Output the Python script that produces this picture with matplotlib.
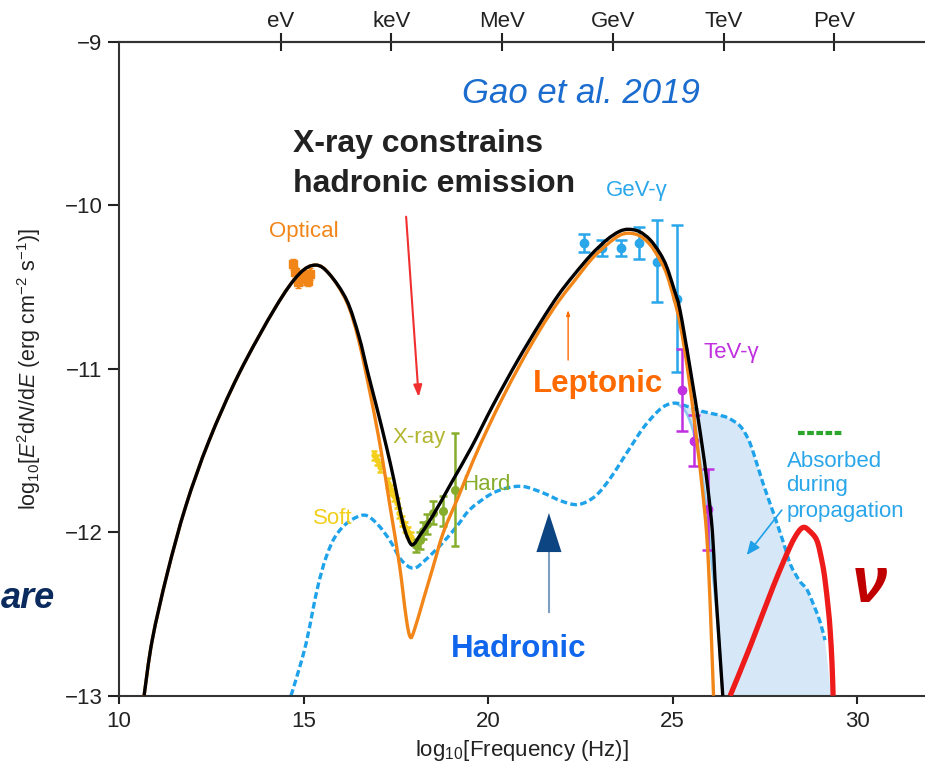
import matplotlib
matplotlib.use("Agg")
import numpy as np
import matplotlib.pyplot as plt
from matplotlib.path import Path
from matplotlib.patches import Polygon, PathPatch

plt.rcParams['font.family'] = ['Liberation Sans', 'DejaVu Sans']
plt.rcParams['mathtext.fontset'] = 'custom'
plt.rcParams['mathtext.rm'] = 'Liberation Sans'
plt.rcParams['mathtext.it'] = 'Liberation Sans:italic'
plt.rcParams['mathtext.bf'] = 'Liberation Sans:bold'

# ---------------- model curves (log10 nu [Hz], log10 E^2 dN/dE) ----------------
total_x = [10.68, 10.9, 11.31, 11.81, 12.44, 13.25, 14.25, 14.88, 15.33, 15.7, 16.17, 16.5,
           16.75, 17.0, 17.25, 17.45, 17.61, 17.75, 17.9, 18.0, 18.15, 18.5, 19.0, 19.55,
           20.14, 20.8, 21.41, 21.9, 22.31, 22.8, 23.22, 23.55, 23.8, 24.1, 24.39, 24.65,
           24.84, 25.05, 25.2, 25.47, 25.75, 25.95, 26.08, 26.15, 26.25, 26.36]
total_y = [-13.0, -12.66, -12.25, -11.84, -11.44, -11.03, -10.62, -10.42, -10.365, -10.42, -10.58, -10.8,
           -11.03, -11.25, -11.48, -11.68, -11.86, -11.99, -12.07, -12.07, -12.02, -11.9, -11.7, -11.48,
           -11.22, -10.95, -10.72, -10.55, -10.43, -10.3, -10.21, -10.16, -10.146, -10.16, -10.21, -10.29,
           -10.375, -10.52, -10.64, -10.99, -11.39, -11.72, -12.0, -12.29, -12.63, -13.0]

lepto_x = [10.68, 10.9, 11.31, 11.81, 12.44, 13.25, 14.25, 14.88, 15.33, 15.7, 16.17, 16.5,
           16.85, 17.1, 17.35, 17.6, 17.78, 17.89, 18.0, 18.25, 18.5, 18.79, 19.2, 19.6,
           20.0, 20.41, 20.9, 21.41, 21.9, 22.31, 22.8, 23.22, 23.55, 23.8, 24.1, 24.39,
           24.65, 24.84, 25.05, 25.2, 25.4, 25.63, 25.8, 25.92, 25.99, 26.05, 26.11]
lepto_y = [-13.0, -12.66, -12.25, -11.84, -11.44, -11.03, -10.62, -10.42, -10.365, -10.42, -10.59, -10.83,
           -11.2, -11.5, -11.85, -12.2, -12.52, -12.64, -12.6, -12.41, -12.22, -12.0, -11.78, -11.56,
           -11.36, -11.17, -10.96, -10.76, -10.59, -10.47, -10.33, -10.24, -10.185, -10.17, -10.185, -10.24,
           -10.33, -10.42, -10.58, -10.72, -10.99, -11.39, -11.72, -12.0, -12.29, -12.63, -13.0]

hadro_x = [14.66, 14.85, 15.07, 15.25, 15.4, 15.6, 15.85, 16.2, 16.65, 17.0, 17.34, 17.65,
           17.98, 18.3, 18.79, 19.2, 19.51, 20.05, 20.5, 20.96, 21.5, 22.0, 22.45, 22.9,
           23.31, 23.8, 24.21, 24.6, 24.85, 25.1, 25.4, 25.8, 26.2, 26.5, 26.83, 27.05,
           27.2, 27.45, 27.73, 28.0, 28.2, 28.45, 28.64, 28.85, 29.0, 29.13]
hadro_y = [-13.0, -12.86, -12.68, -12.48, -12.32, -12.16, -12.03, -11.94, -11.895, -11.95, -12.05, -12.17,
           -12.22, -12.17, -12.06, -11.95, -11.86, -11.77, -11.73, -11.72, -11.76, -11.81, -11.83, -11.78,
           -11.67, -11.5, -11.36, -11.26, -11.22, -11.21, -11.23, -11.26, -11.28, -11.3, -11.35, -11.43,
           -11.52, -11.7, -11.88, -12.06, -12.2, -12.3, -12.35, -12.46, -12.55, -12.66]

# hadronic emission that survives propagation
absorbed_x = [25.1, 25.35, 25.56, 25.75, 25.93, 26.07, 26.2, 26.3, 26.36]
absorbed_y = [-11.21, -11.26, -11.38, -11.58, -11.88, -12.2, -12.5, -12.8, -13.0]

nu_x = [26.56, 27.1, 27.73, 28.18, 28.4, 28.55, 28.7, 28.91, 29.05, 29.13, 29.22, 29.27, 29.32, 29.35]
nu_y = [-13.0, -12.7, -12.33, -12.09, -12.0, -11.97, -11.99, -12.05, -12.18, -12.29, -12.47, -12.6, -12.8, -13.0]

nu_limit_x = [28.4, 29.62]
nu_limit_y = [-11.39, -11.39]

# ---------------- measurements ----------------
opt_x = [14.72, 14.78, 14.84, 14.93, 15.02, 15.12, 15.18]
opt_y = [-10.36, -10.41, -10.47, -10.45, -10.43, -10.46, -10.42]
opt_err = [0.035, 0.035, 0.035, 0.035, 0.035, 0.035, 0.035]

soft_x = [16.92, 17.0, 17.08, 17.3, 17.38, 17.45, 17.52, 17.6, 17.68, 17.75, 17.82, 17.9]
soft_y = [-11.53, -11.56, -11.6, -11.7, -11.74, -11.78, -11.82, -11.88, -11.93, -11.97, -12.0, -12.03]
soft_err = [0.03, 0.03, 0.03, 0.03, 0.03, 0.03, 0.03, 0.03, 0.03, 0.03, 0.03, 0.03]

hard_x = [18.05, 18.15, 18.25, 18.35, 18.5, 18.79, 19.11]
hard_y = [-12.08, -12.05, -11.99, -11.95, -11.88, -11.87, -11.74]
hard_err = [0.04, 0.05, 0.05, 0.06, 0.07, 0.09, 0.345]

gev_x = [22.6, 23.1, 23.6, 24.1, 24.57, 25.13]
gev_y = [-10.23, -10.26, -10.26, -10.23, -10.345, -10.57]
gev_lo = [0.055, 0.05, 0.05, 0.1, 0.245, 0.45]
gev_hi = [0.055, 0.05, 0.05, 0.1, 0.255, 0.45]

tev_x = [25.25, 25.58, 25.97]
tev_y = [-11.13, -11.44, -11.86]
tev_err = [0.25, 0.155, 0.25]

energy_ticks = [14.383, 17.383, 20.383, 23.383, 26.383, 29.383]
energy_labels = ['eV', 'keV', 'MeV', 'GeV', 'TeV', 'PeV']


def spline_segments(xs, ys):
    """Cubic Bezier segments (Catmull-Rom tangents) passing through the given points."""
    p = np.column_stack([xs, ys]).astype(float)
    n = len(p)
    verts = [p[0]]
    codes = [Path.MOVETO]
    for i in range(n - 1):
        p0 = p[i - 1] if i > 0 else p[i]
        p1, p2 = p[i], p[i + 1]
        p3 = p[i + 2] if i + 2 < n else p[i + 1]
        verts += [p1 + (p2 - p0) / 6.0, p2 - (p3 - p1) / 6.0, p2]
        codes += [Path.CURVE4] * 3
    return verts, codes


def smooth_line(ax, xs, ys, **kw):
    verts, codes = spline_segments(xs, ys)
    ax.add_patch(PathPatch(Path(verts, codes), fill=False, **kw))


# ---------------- figure ----------------
W, H = 925, 765
fig = plt.figure(figsize=(W / 100, H / 100), dpi=100)
ax = fig.add_axes([119 / W, 1 - 695.7 / H, 806 / W, (695.7 - 42) / H])
ax.set_xlim(10, 31.84)
ax.set_ylim(-13, -9)

ORANGE = '#f28518'
HBLUE = '#1ea2ea'

# absorbed band: intrinsic hadronic curve above, surviving emission on the left
k = hadro_x.index(25.1)
v_top, c_top = spline_segments(hadro_x[k:], hadro_y[k:])
v_low, c_low = spline_segments(absorbed_x[::-1], absorbed_y[::-1])
band_verts = v_top + [np.array([29.3, -13.0]), v_low[0]] + v_low[1:] + [v_top[0]]
band_codes = c_top + [Path.LINETO, Path.LINETO] + c_low[1:] + [Path.CLOSEPOLY]
ax.add_patch(PathPatch(Path(band_verts, band_codes), facecolor='#d6e8f8',
                       edgecolor='none', zorder=1))

smooth_line(ax, absorbed_x, absorbed_y, edgecolor='#8fcaf0', lw=2, zorder=2)
smooth_line(ax, hadro_x, hadro_y, edgecolor=HBLUE, lw=2.4, ls=(0, (2.0, 1.0)), zorder=2)

# data
ekw = dict(fmt='o', elinewidth=1.8, capthick=1.8, zorder=3)
ax.errorbar(opt_x, opt_y, yerr=opt_err, fmt='s', color=ORANGE, ms=6, elinewidth=2,
            capsize=2, zorder=3)
ax.errorbar(soft_x, soft_y, yerr=soft_err, color='#f3cf1c', ms=3.5, capsize=2, **ekw)
ax.errorbar(hard_x, hard_y, yerr=hard_err, color='#86ad2c', ms=5.5, capsize=3, **ekw)
ax.errorbar(gev_x, gev_y, yerr=[gev_lo, gev_hi], color='#2aa6ea', ms=6, capsize=4, **ekw)
ax.errorbar(tev_x, tev_y, yerr=tev_err, color='#c02fe0', ms=6, capsize=4, **ekw)

smooth_line(ax, lepto_x, lepto_y, edgecolor=ORANGE, lw=2.4, zorder=4, capstyle='butt')
smooth_line(ax, total_x, total_y, edgecolor='black', lw=2.4, zorder=5, capstyle='butt')
smooth_line(ax, nu_x, nu_y, edgecolor='#ee1b1b', lw=3.8, zorder=5, capstyle='butt')
ax.plot(nu_limit_x, nu_limit_y, color='#2aa62a', lw=3, ls=(0, (1.6, 0.6)), zorder=5)

# ---------------- axes styling ----------------
SP = '#333333'
for s in ['left', 'bottom', 'top']:
    ax.spines[s].set_color(SP)
    ax.spines[s].set_linewidth(1.5)
ax.spines['right'].set_visible(False)
ax.set_xticks([10, 15, 20, 25, 30])
ax.set_yticks([-13, -12, -11, -10, -9])
ax.set_yticklabels(['\u221213', '\u221212', '\u221211', '\u221210', '\u22129'])
ax.tick_params(axis='both', labelsize=16, colors='#222222', width=1.5, length=6, pad=5,
               direction='out')
ax.tick_params(axis='y', length=8, pad=4)
ax.tick_params(axis='x', top=False)

ax2 = ax.twiny()
ax2.set_xlim(ax.get_xlim())
ax2.set_xticks(energy_ticks)
ax2.set_xticklabels(energy_labels)
ax2.tick_params(axis='x', direction='inout', length=13, width=1.5, labelsize=16,
                colors='#222222', pad=0.5)
for s in ['left', 'bottom', 'right']:
    ax2.spines[s].set_visible(False)
ax2.spines['top'].set_color(SP)
ax2.spines['top'].set_linewidth(1.5)

ax.set_xlabel('log$_{10}$[Frequency (Hz)]', fontsize=16, color='#222222', labelpad=4)
ax.set_ylabel('log$_{10}$[$E^2$d$N$/d$E$ (erg cm$^{-2}$ s$^{-1}$)]', fontsize=15.5,
              color='#222222')
ax.yaxis.set_label_coords(-0.094, 0.5)

# ---------------- annotations ----------------
ax.text(22.53, -9.373, 'Gao et al. 2019', fontsize=25, style='italic', color='#1b6ccf',
        ha='center', va='baseline')
ax.text(14.72, -9.673, 'X-ray constrains', fontsize=23, fontweight='bold', color='#222222',
        ha='left', va='baseline')
ax.text(14.72, -9.918, 'hadronic emission', fontsize=23, fontweight='bold', color='#222222',
        ha='left', va='baseline')
ax.annotate('', xy=(18.12, -11.173), xytext=(17.78, -10.069),
            arrowprops=dict(arrowstyle='-|>,head_length=0.7,head_width=0.25', color='#f03030',
                            lw=1.5, shrinkA=0, shrinkB=0), zorder=6)

ax.text(15.0, -10.157, 'Optical', fontsize=16, color=ORANGE, ha='center', va='center')
ax.text(24.04, -9.906, 'GeV-\u03b3', fontsize=16, color='#2aa6ea', ha='center', va='center')
ax.text(25.83, -10.903, 'TeV-\u03b3', fontsize=16, color='#c02fe0', ha='left', va='center')
ax.text(17.40, -11.42, 'X-ray', fontsize=16, color='#b3b630', ha='left', va='center')
ax.text(19.30, -11.705, 'Hard', fontsize=16, color='#86ad2c', ha='left', va='center')
ax.text(15.26, -11.913, 'Soft', fontsize=16, color='#f3cf1c', ha='left', va='center')

ax.text(22.97, -11.093, 'Leptonic', fontsize=22.5, fontweight='bold', color='#ff6a00',
        ha='center', va='center')
ax.annotate('', xy=(22.17, -10.64), xytext=(22.17, -10.946),
            arrowprops=dict(arrowstyle='-|>,head_length=0.3,head_width=0.1', color='#ff6a00',
                            lw=1.0, shrinkA=0, shrinkB=0))

ax.text(20.84, -12.715, 'Hadronic', fontsize=22.5, fontweight='bold', color='#1166ee',
        ha='center', va='center')
ax.plot([21.65, 21.65], [-12.49, -12.12], color='#7f9fc2', lw=1.5, zorder=6)
ax.add_patch(Polygon([(21.65 - 0.34, -12.121), (21.65 + 0.34, -12.121), (21.65, -11.882)],
                     closed=True, facecolor='#0d4482', edgecolor='none', zorder=6))

ax.text(28.09, -11.60, 'Absorbed', fontsize=16, color='#2aa6ea', ha='left', va='baseline')
ax.text(28.09, -11.748, 'during', fontsize=16, color='#2aa6ea', ha='left', va='baseline')
ax.text(28.09, -11.907, 'propagation', fontsize=16, color='#2aa6ea', ha='left', va='baseline')
ax.annotate('', xy=(27.01, -12.139), xytext=(27.96, -11.864),
            arrowprops=dict(arrowstyle='-|>,head_length=0.8,head_width=0.35', color='#20a0e8',
                            lw=1.2, shrinkA=0, shrinkB=0), zorder=6)

ax.text(30.33, -12.32, '\u03bd', fontsize=46, fontweight='bold', style='italic',
        color='#c00000', ha='center', va='center')

fig.text(1 / W, 1 - 608 / H, 'are', fontsize=26, fontweight='bold', style='italic',
         color='#0b2b5e', ha='left', va='baseline')

fig.savefig('out.png', dpi=100)
